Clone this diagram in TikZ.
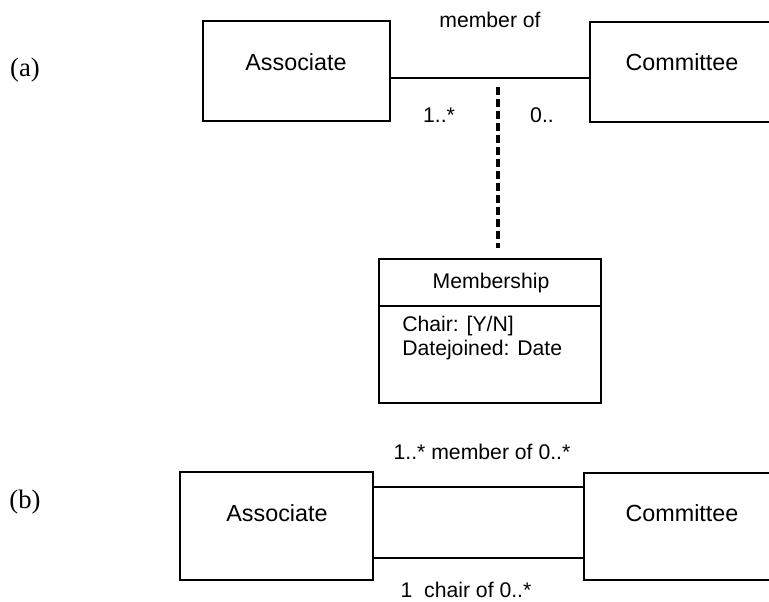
\documentclass[tikz,border=0pt]{standalone}
\usepackage{fontspec}
\setmainfont{Liberation Sans}
\newfontfamily\serifLbl{Liberation Serif}
\usetikzlibrary{calc}
\begin{document}
\begin{tikzpicture}[x=0.75pt,y=-0.75pt,
  box/.style={draw,line width=1.3pt,inner sep=0pt,rectangle},
  bigtxt/.style={font=\fontsize{17.5}{21}\selectfont,inner sep=0pt},
  smalltxt/.style={font=\fontsize{15.9}{19}\selectfont,inner sep=0pt},
  lbl/.style={font=\serifLbl\fontsize{20}{23}\selectfont,inner sep=0pt},
  conn/.style={line width=1.2pt},
  dashconn/.style={line width=2.6pt,dash pattern=on 6pt off 3pt}]
\clip (0,0) rectangle (769,601);
\useasboundingbox (0,0) rectangle (769,601);
% (a)
\node[lbl] (la) at (25,70) {(a)};
\node[box,minimum width=140.25pt,minimum height=75pt] (asa) at (296.5,71) {};
\node[bigtxt] (asat) at (296,62) {Associate};
\node[box,minimum width=138.75pt,minimum height=75pt] (cma) at (682.5,72) {};
\node[bigtxt] (cmat) at (682,62) {Committee};
\draw[conn] ($(asa.east)+(0,7)$) -- ($(cma.west)+(0,6)$);
\node[smalltxt] (mof) at (490,20) {member of};
\node[smalltxt] (m1) at (439,115) {1..*};
\node[smalltxt] (m0) at (542,115) {0..};
\node[box,minimum width=166.5pt,minimum height=108pt] (mem) at (490,331) {};
\node[smalltxt] (memt) at (491,283) {Membership};
\draw[line width=1.3pt] ($(mem.west)+(0,-25)$) -- ($(mem.east)+(0,-25)$);
\node[smalltxt,anchor=west,align=left,font=\fontsize{15.9}{17.3}\selectfont] (attr) at (402,338) {Chair: [Y/N]\\Datejoined: Date};
\coordinate (dtop) at (498,87);
\coordinate (dbot) at (498,248);
\draw[dashconn] (dtop) -- (dbot);
% (b)
\node[lbl] (lb) at (25,502) {(b)};
\node[box,minimum width=144.75pt,minimum height=81pt] (asb) at (276.5,526) {};
\node[bigtxt] (asbt) at (277,513) {Associate};
\node[box,minimum width=147pt,minimum height=80.25pt] (cmb) at (682,526.5) {};
\node[bigtxt] (cmbt) at (682,513) {Committee};
\draw[conn] ($(asb.east)+(0,-39)$) -- ($(cmb.west)+(0,-39.5)$);
\draw[conn] ($(asb.east)+(0,32)$) -- ($(cmb.west)+(0,31.5)$);
\node[smalltxt] (bm) at (482,452) {1..* member of 0..*};
\node[smalltxt] (bc) at (466,590) {1\ \ chair of 0..*};
\end{tikzpicture}
\end{document}
